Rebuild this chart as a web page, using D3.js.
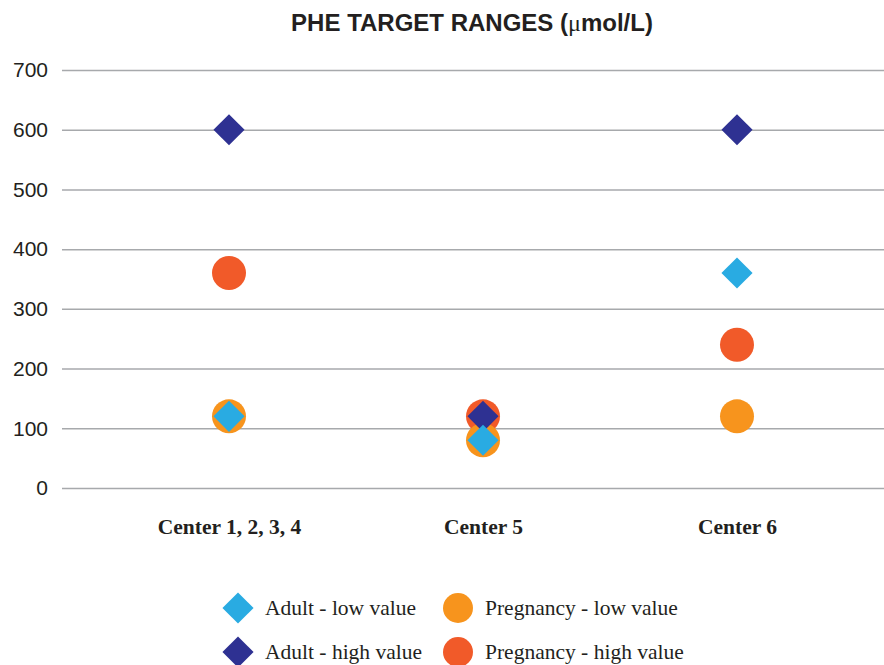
<!DOCTYPE html>
<html><head><meta charset="utf-8">
<script src="https://cdn.jsdelivr.net/npm/d3@7/dist/d3.min.js"></script>
<style>body{margin:0;background:#fff}svg{display:block}</style>
</head><body><svg id="c" width="884" height="665"></svg>
<script>
const categories = ["Center 1, 2, 3, 4", "Center 5", "Center 6"];
const adultLow = [120, 80, 360];
const adultHigh = [600, 120, 600];
const pregLow = [120, 80, 120];
const pregHigh = [360, 120, 240];
const yTicks = [0, 100, 200, 300, 400, 500, 600, 700];
const seriesNames = ["Adult - low value", "Adult - high value", "Pregnancy - low value", "Pregnancy - high value"];

const colors = {al: "#29ABE2", ah: "#2E3192", pl: "#F7941D", ph: "#F15A29"};
const svg = d3.select("#c");
const x = d3.scalePoint().domain(categories).range([229, 737]);
const y = d3.scaleLinear().domain([0, 700]).range([488, 70]);

// title
const t = svg.append("text").attr("x", 472).attr("y", 31).attr("text-anchor", "middle")
  .style("font-family", "'Liberation Sans', Arial, sans-serif").style("font-weight", "bold")
  .style("font-size", "24px").attr("fill", "#231f20");
t.append("tspan").text("PHE TARGET RANGES (");
t.append("tspan").text("\u03bc").style("font-family", "'Liberation Serif', serif").style("font-weight", "normal");
t.append("tspan").text("mol/L)");

// grid + y labels
const yAxis = d3.axisLeft(y).tickValues(yTicks).tickSize(-(884 - 62)).tickPadding(14);
const ga = svg.append("g").attr("transform", "translate(62,0)").call(yAxis);
ga.select(".domain").remove();
ga.selectAll(".tick line").attr("stroke", "#a7a9ac").attr("stroke-width", 1.5);
ga.selectAll(".tick text").attr("fill", "#231f20")
  .style("font-family", "'Liberation Sans', Arial, sans-serif").style("font-size", "21px");

// x labels
const xAxis = d3.axisBottom(x).tickSize(0).tickPadding(0);
const gx = svg.append("g").attr("transform", "translate(0,519)").call(xAxis);
gx.select(".domain").remove();
gx.selectAll(".tick text").attr("fill", "#231f20").attr("dy", "0.71em")
  .style("font-family", "'Liberation Serif', 'Times New Roman', serif").style("font-weight", "bold")
  .style("font-size", "21.5px");

const diamond = d3.symbol().type(d3.symbolSquare).size(22 * 22);
function drawCircles(vals, col) {
  svg.append("g").selectAll("circle").data(vals).join("circle")
    .attr("cx", (d, i) => x(categories[i])).attr("cy", d => y(d)).attr("r", 17).attr("fill", col);
}
function drawDiamonds(vals, col) {
  svg.append("g").selectAll("path").data(vals).join("path")
    .attr("d", diamond)
    .attr("transform", (d, i) => `translate(${x(categories[i])},${y(d)}) rotate(45)`).attr("fill", col);
}
drawCircles(pregHigh, colors.ph);
drawCircles(pregLow, colors.pl);
drawDiamonds(adultHigh, colors.ah);
drawDiamonds(adultLow, colors.al);

// legend
const legend = [
  {name: seriesNames[0], col: colors.al, shape: "d", lx: 238, ly: 608},
  {name: seriesNames[2], col: colors.pl, shape: "c", lx: 458, ly: 608},
  {name: seriesNames[1], col: colors.ah, shape: "d", lx: 238, ly: 652},
  {name: seriesNames[3], col: colors.ph, shape: "c", lx: 458, ly: 652}
];
const lg = svg.append("g");
legend.forEach(l => {
  if (l.shape === "d") {
    lg.append("path").attr("d", diamond).attr("transform", `translate(${l.lx},${l.ly}) rotate(45)`).attr("fill", l.col);
  } else {
    lg.append("circle").attr("cx", l.lx).attr("cy", l.ly).attr("r", 15).attr("fill", l.col);
  }
  lg.append("text").attr("x", l.lx + 27).attr("y", l.ly + 7).text(l.name).attr("fill", "#231f20")
    .style("font-family", "'Liberation Serif', 'Times New Roman', serif").style("font-size", "21.5px");
});
</script></body></html>
